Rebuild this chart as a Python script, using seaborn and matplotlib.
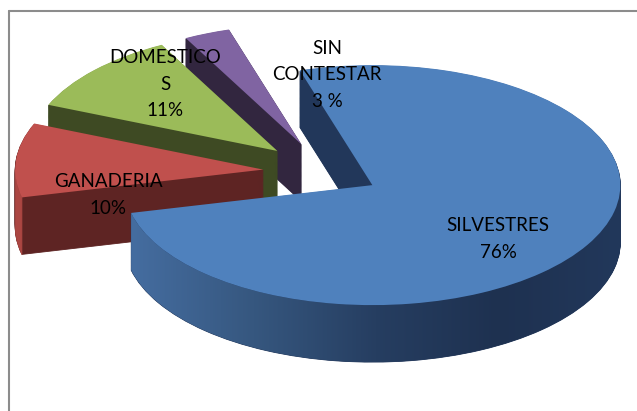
import matplotlib
matplotlib.use("Agg")
import matplotlib.pyplot as plt
import seaborn as sns
import numpy as np
from matplotlib.lines import Line2D
from matplotlib.patches import Polygon
from matplotlib.colors import LinearSegmentedColormap

# ---- data ----
categories = ["SILVESTRES", "GANADERIA", "DOMESTICOS", "SIN CONTESTAR"]
values = [76, 10, 11, 3]
label_texts = ["SILVESTRES\n76%", "GANADERIA\n10%", "DOMESTICO\nS\n11%", "SIN\nCONTESTAR\n3 %"]

# ---- style ----
top_colors = ["#4f81bd", "#c0504d", "#9bbb59", "#8064a2"]
cut_colors = ["#22375a", "#5e2423", "#3e4a23", "#32263f"]
outer_colors = [None, "#ab4642", "#55692e", "#4a3a60"]
blue_side_cmap = LinearSegmentedColormap.from_list(
    "blueside", ["#456da0", "#36577f", "#263e61", "#1e3150", "#22385b"])
explode = [0.22, 0.25, 0.26, 0.25]
start_angle = 107

sns.set_theme(style="white")
plt.rcParams["font.family"] = ["Lato", "DejaVu Sans"]

W, H = 637, 411
fig = plt.figure(figsize=(W / 100, H / 100), dpi=100)
fig.patch.set_facecolor("white")
ax = fig.add_axes([0, 0, 1, 1])

# pie geometry (pixels)
cx, cy = 325, 172      # centre of the (unexploded) top face
a, b = 248, 120        # horizontal / vertical semi-axes
depth = 57             # thickness in pixels
D = depth / b

# extruded body: stacked dark layers
n_layers = 64
for dz in np.linspace(D, 0, n_layers)[:-1]:
    wedges, _ = ax.pie(values, explode=explode, colors=cut_colors, startangle=start_angle,
                       counterclock=False, center=(0, -dz), radius=1,
                       wedgeprops=dict(linewidth=0.6), frame=True)
    for w, c in zip(wedges, cut_colors):
        w.set_edgecolor(c)
        w.set_zorder(1)

# top faces
top_wedges, _ = ax.pie(values, explode=explode, colors=top_colors, startangle=start_angle,
                       counterclock=False, center=(0, 0), radius=1,
                       wedgeprops=dict(linewidth=0), frame=True)
for w in top_wedges:
    w.set_zorder(4)

# outer (curved) side surfaces facing the viewer
for i, w in enumerate(top_wedges):
    (wx, wy), r = w.center, w.r
    t1, t2 = w.theta1, w.theta2
    for lo, hi in ((max(t1, -180), min(t2, 0)), (max(t1, 180), min(t2, 360))):
        if hi - lo <= 0.5:
            continue
        th = np.radians(np.linspace(lo, hi, 200))
        xs = wx + r * np.cos(th)
        ys = wy + r * np.sin(th)
        pts = np.concatenate([np.column_stack([xs, ys]),
                              np.column_stack([xs[::-1], ys[::-1] - D])])
        if outer_colors[i] is None:
            patch = Polygon(pts, closed=True, facecolor="none", edgecolor="none", zorder=2)
            ax.add_patch(patch)
            grad = np.linspace(0, 1, 256).reshape(1, -1)
            im = ax.imshow(grad, cmap=blue_side_cmap, aspect="auto",
                           extent=(xs.min(), xs.max(), ys.min() - D, ys.max()),
                           zorder=2, interpolation="bilinear")
            im.set_clip_path(patch)
        else:
            ax.add_patch(Polygon(pts, closed=True, facecolor=outer_colors[i],
                                 edgecolor=outer_colors[i], lw=0.5, zorder=2))

ax.set_aspect("auto")
ax.set_xlim(-cx / a, (W - cx) / a)
ax.set_ylim((cy - H) / b, cy / b)
ax.axis("off")

# labels (pixel positions of the label blocks)
label_pos = [(498, 239), (108, 195), (165, 84), (327, 75)]
for txt, (px, py) in zip(label_texts, label_pos):
    fig.text(px / W, 1 - py / H, txt, ha="center", va="center",
             multialignment="center", fontsize=13.5, color="#000000",
             linespacing=1.68, zorder=10)

# chart-area frame (left and top edges visible)
frame_color = "#8c8c8c"
fig.add_artist(Line2D([8.5 / W, 8.5 / W], [0, 1 - 11 / H], transform=fig.transFigure,
                      color=frame_color, lw=1.5))
fig.add_artist(Line2D([8.5 / W, 1], [1 - 11 / H, 1 - 11 / H], transform=fig.transFigure,
                      color=frame_color, lw=1.5))

fig.savefig("out.png", dpi=100, facecolor="white")
